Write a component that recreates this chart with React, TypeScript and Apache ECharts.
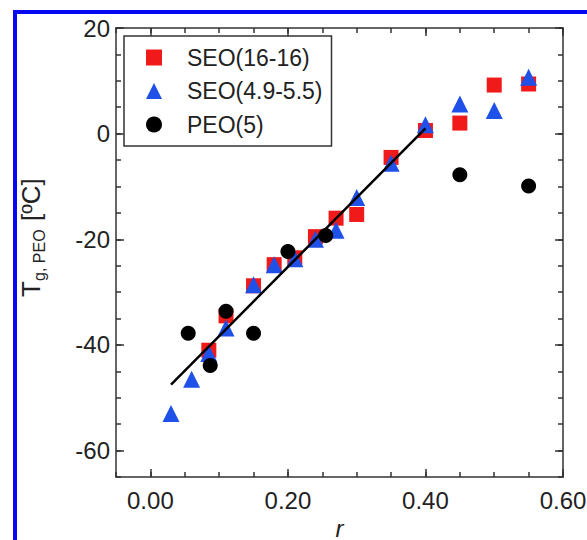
import React, { useEffect, useRef } from "react";
import * as echarts from "echarts";

// r, Tg values
const seo16_16: [number, number][] = [
  [0.085, -41], [0.11, -34.5], [0.15, -28.8], [0.18, -24.8], [0.21, -23.5],
  [0.24, -19.5], [0.27, -16], [0.30, -15.3], [0.35, -4.5], [0.40, 0.6],
  [0.45, 2], [0.50, 9.2], [0.55, 9.4],
];
const seo49_55: [number, number][] = [
  [0.03, -53], [0.06, -46.5], [0.085, -41.6], [0.11, -36.8], [0.15, -28.6],
  [0.18, -24.8], [0.21, -23.7], [0.24, -20], [0.27, -18.3], [0.30, -12.1],
  [0.35, -5.6], [0.40, 1.7], [0.45, 5.6], [0.50, 4.4], [0.55, 10.7],
];
const peo5: [number, number][] = [
  [0.055, -37.8], [0.087, -43.9], [0.11, -33.6], [0.15, -37.8],
  [0.20, -22.3], [0.255, -19.3], [0.45, -7.8], [0.55, -9.9],
];
const fitLine: [number, number][] = [[0.03, -47.5], [0.40, 1]];

const seriesNames = ["SEO(16-16)", "SEO(4.9-5.5)", "PEO(5)"];
const xMajor = [0, 0.2, 0.4, 0.6];
const yMajor = [-60, -40, -20, 0, 20];

const FONT = "Liberation Sans, Arial, Helvetica, sans-serif";
const AX = "#333";

export default function App() {
  const ref = useRef<HTMLDivElement>(null);
  useEffect(() => {
    if (!ref.current) return;
    const chart = echarts.init(ref.current, null, { renderer: "svg" });
    const gridRect = { left: 116, top: 28, right: 24, bottom: 63, containLabel: false, outerBoundsMode: "none" };
    const xBase = { type: "value", min: -0.05, max: 0.6, splitLine: { show: false } };
    const yBase = { type: "value", min: -65, max: 20, splitLine: { show: false } };
    const line = { show: true, onZero: false, lineStyle: { color: AX, width: 1.5 } };
    const noLine = { show: false, onZero: false };
    const majorTickX = { show: true, inside: true, length: 8, customValues: xMajor, lineStyle: { color: AX, width: 1.5 } };
    const majorTickY = { show: true, inside: true, length: 8, customValues: yMajor, lineStyle: { color: AX, width: 1.5 } };
    const minorTick = { show: true, inside: true, length: 5, lineStyle: { color: AX, width: 1.5 } };
    chart.setOption({
      animation: false,
      backgroundColor: "#fff",
      grid: [gridRect, { ...gridRect }],
      legend: {
        orient: "vertical",
        left: 124,
        top: 36,
        padding: [10, 9, 10, 22],
        itemWidth: 16,
        itemHeight: 16,
        itemGap: 10.5,
        borderColor: AX,
        borderWidth: 1.5,
        borderRadius: 0,
        data: seriesNames,
        textStyle: { fontSize: 23, fontFamily: FONT, color: "#222", lineHeight: 16, padding: [0, 0, 0, 20] },
      },
      xAxis: [
        {
          ...xBase, gridIndex: 0, position: "bottom", axisLine: line, axisTick: majorTickX,
          axisLabel: { customValues: xMajor, formatter: (v: number) => v.toFixed(2), fontSize: 24, fontFamily: FONT, color: "#222", margin: 11 },
          name: "r", nameLocation: "middle", nameGap: 35,
          nameTextStyle: { fontSize: 24, lineHeight: 24, fontStyle: "italic", fontFamily: FONT, color: "#222" },
        },
        { ...xBase, gridIndex: 0, position: "top", axisLine: line, axisTick: majorTickX, axisLabel: { show: false } },
        { ...xBase, gridIndex: 1, position: "bottom", interval: 0.05, axisLine: noLine, axisTick: minorTick, axisLabel: { show: false } },
        { ...xBase, gridIndex: 1, position: "top", interval: 0.05, axisLine: noLine, axisTick: minorTick, axisLabel: { show: false } },
      ],
      yAxis: [
        {
          ...yBase, gridIndex: 0, position: "left", axisLine: line, axisTick: majorTickY,
          axisLabel: { customValues: yMajor, fontSize: 24, fontFamily: FONT, color: "#222", margin: 6 },
        },
        { ...yBase, gridIndex: 0, position: "right", axisLine: line, axisTick: majorTickY, axisLabel: { show: false } },
        { ...yBase, gridIndex: 1, position: "left", interval: 5, axisLine: noLine, axisTick: minorTick, axisLabel: { show: false } },
        { ...yBase, gridIndex: 1, position: "right", interval: 5, axisLine: noLine, axisTick: minorTick, axisLabel: { show: false } },
      ],
      series: [
        {
          name: seriesNames[0], type: "scatter", xAxisIndex: 0, yAxisIndex: 0, data: seo16_16,
          symbol: "rect", symbolSize: 15, itemStyle: { color: "#f01a1a", opacity: 1 },
        },
        {
          name: seriesNames[1], type: "scatter", xAxisIndex: 0, yAxisIndex: 0, data: seo49_55,
          symbol: "triangle", symbolSize: 17, itemStyle: { color: "#1f50e8", opacity: 1 },
        },
        {
          name: seriesNames[2], type: "scatter", xAxisIndex: 0, yAxisIndex: 0, data: peo5,
          symbol: "circle", symbolSize: 15, itemStyle: { color: "#000", opacity: 1 },
        },
        {
          type: "line", xAxisIndex: 0, yAxisIndex: 0, data: fitLine, symbol: "none", silent: true,
          lineStyle: { color: "#000", width: 2.5 }, z: 5,
        },
      ],
      graphic: [
        {
          type: "rect", z: 100, silent: true,
          shape: { x: 15, y: 12, width: 700, height: 700 },
          style: { fill: "none", stroke: "#0808f0", lineWidth: 4 },
        },
        {
          type: "group", x: 31, y: 297, rotation: Math.PI / 2,
          children: [
            { type: "text", x: 0, y: 0, style: { text: "T", fontSize: 26, fontFamily: FONT, fill: "#222", align: "left", verticalAlign: "middle" } },
            { type: "text", x: 16, y: 8, style: { text: "g, PEO", fontSize: 16, fontFamily: FONT, fill: "#222", align: "left", verticalAlign: "middle" } },
            { type: "text", x: 76, y: 0, style: { text: "[ºC]", fontSize: 26, fontFamily: FONT, fill: "#222", align: "left", verticalAlign: "middle" } },
          ],
        },
      ],
    });
    return () => chart.dispose();
  }, []);
  return (
    <div
      ref={ref}
      style={{ position: "fixed", left: 0, top: 0, width: 587, height: 540 }}
    />
  );
}
